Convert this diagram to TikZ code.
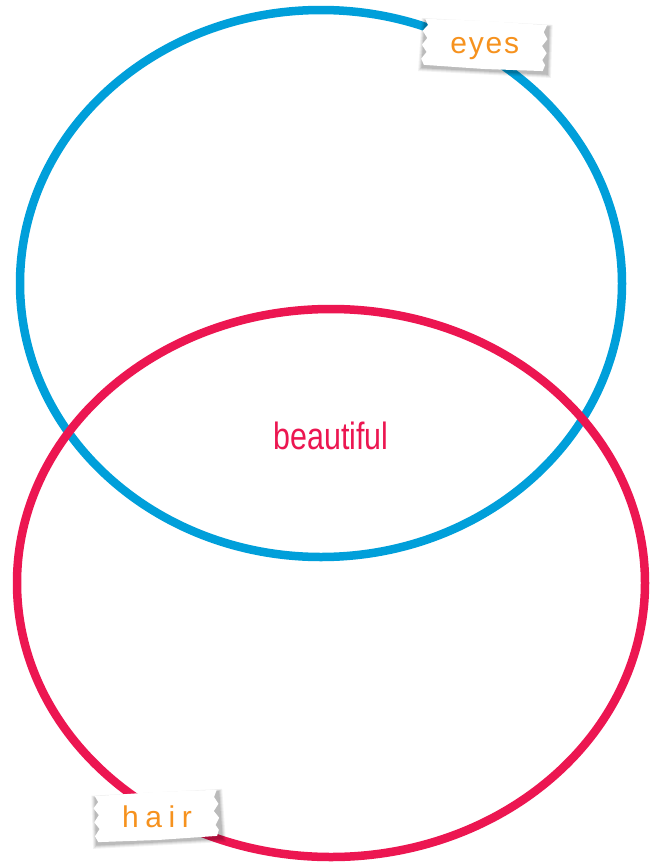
\documentclass[tikz,border=0pt]{standalone}
\usepackage{fontspec}
\setmainfont{Liberation Sans}
\newfontfamily\eyesfont[LetterSpace=6]{Liberation Sans}
\newfontfamily\hairfont[LetterSpace=22]{Liberation Sans}
\definecolor{vennblue}{RGB}{0,159,218}
\definecolor{vennred}{RGB}{236,22,81}
\definecolor{tapeorange}{RGB}{246,146,30}
\tikzset{
  ring/.style={line width=8.5pt},
  tapetext/.style={text=tapeorange, inner sep=0pt},
  midtext/.style={text=vennred, font=\fontsize{38}{40}\selectfont, xscale=0.8, inner sep=0pt}
}
\newcommand\tapeoutline{(-61,-23) -- (0,-24) -- (61,-23) -- (58,-16) -- (62,-9) -- (57,-2) -- (62,5) -- (58,12) -- (61,17) -- (59,23)
      -- (0,24) -- (-60,23) -- (-63,17) -- (-58,10) -- (-63,3) -- (-58,-4) -- (-63,-11) -- (-58,-17) -- cycle}
\newcommand\tapelabel[6]{%
  \begin{scope}[shift={#2}, rotate=#3]
    \foreach \s/\o in {4.5/0.05, 3.5/0.06, 2.5/0.08, 1.5/0.1} {
      \fill[black, opacity=\o, xshift=1pt, yshift=-2pt] (-61-\s,-23-\s*0.6) -- (61+\s,-23-\s*0.6) -- (62+\s,23+\s) -- (-62-\s,23+\s) -- cycle;
    }
    \fill[white] \tapeoutline;
    \node[tapetext] (#1) at (0,#6) {\fontsize{30}{32}#5\selectfont #4};
  \end{scope}}
\begin{document}
\begin{tikzpicture}[x=1pt,y=-1pt]
  \useasboundingbox[fill=white] (0,0) rectangle (660,865);
  \draw[ring, vennblue] (321,283.5) ellipse [x radius=301, y radius=273.5];
  \draw[ring, vennred] (331,583) ellipse [x radius=314, y radius=274];
  \node[midtext] (beautiful) at (331,436) {beautiful};
  \tapelabel{eyes}{(485,45)}{-3}{eyes}{\eyesfont}{4}
  \tapelabel{hair}{(157,816)}{3}{hair}{\hairfont}{1}
\end{tikzpicture}
\end{document}
